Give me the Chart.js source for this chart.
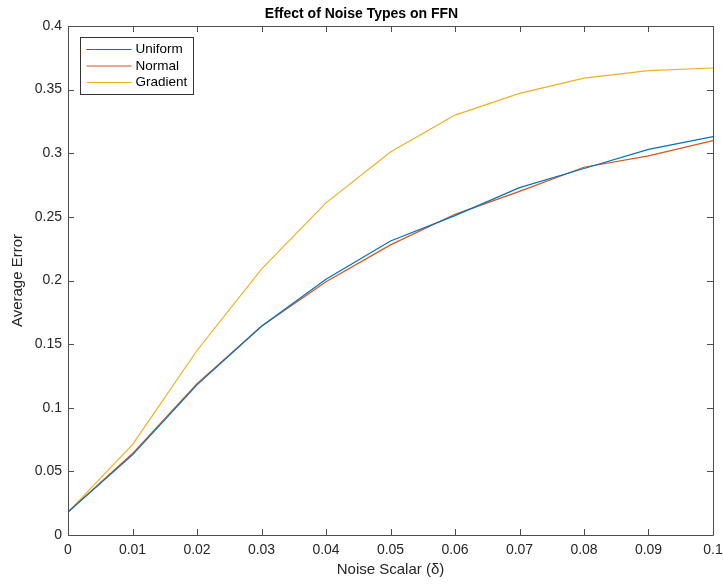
<!DOCTYPE html>
<html>
<head>
<meta charset="utf-8">
<title>Effect of Noise Types on FFN</title>
<script src="https://cdn.jsdelivr.net/npm/chart.js@4.4.1/dist/chart.umd.min.js"></script>
<style>
  html, body { margin: 0; padding: 0; background: #fff; }
  #wrap { width: 723px; height: 584px; }
</style>
</head>
<body>
<div id="wrap"><canvas id="noise-chart" width="723" height="584"></canvas></div>
<script>
// data
var noiseScalar = [0, 0.01, 0.02, 0.03, 0.04, 0.05, 0.06, 0.07, 0.08, 0.09, 0.1];
var uniformErr  = [0.018, 0.063, 0.118, 0.164, 0.201, 0.231, 0.251, 0.273, 0.288, 0.303, 0.313];
var normalErr   = [0.018, 0.064, 0.119, 0.164, 0.199, 0.228, 0.252, 0.270, 0.289, 0.298, 0.310];
var gradientErr = [0.018, 0.071, 0.145, 0.209, 0.261, 0.301, 0.330, 0.347, 0.359, 0.365, 0.367];
var seriesNames = ["Uniform", "Normal", "Gradient"];
var seriesColors = ["#0072BD", "#D95319", "#EDB120"];
var xTicks = [0, 0.01, 0.02, 0.03, 0.04, 0.05, 0.06, 0.07, 0.08, 0.09, 0.1];
var yTicks = [0, 0.05, 0.1, 0.15, 0.2, 0.25, 0.3, 0.35, 0.4];

var FONT = "'Liberation Sans', Arial, Helvetica, sans-serif";
var AXIS_COLOR = "#4d4d4d";

function toPoints(ys) {
    return noiseScalar.map(function (x, i) { return { x: x, y: ys[i] }; });
}

function fmt(v) {
    return String(Number(v.toFixed(3)));
}

// MATLAB style box, inward ticks and legend
var matlabAxes = {
    id: "matlabAxes",
    afterDraw: function (chart) {
        var ctx = chart.ctx;
        var a = chart.chartArea;
        var xs = chart.scales.x, ys = chart.scales.y;
        var tl = 6;
        ctx.save();
        ctx.strokeStyle = AXIS_COLOR;
        ctx.lineWidth = 1;
        ctx.beginPath();
        ctx.rect(Math.round(a.left) + 0.5, Math.round(a.top) + 0.5,
                 Math.round(a.right - a.left), Math.round(a.bottom - a.top));
        xTicks.forEach(function (v) {
            var px = Math.round(xs.getPixelForValue(v)) + 0.5;
            ctx.moveTo(px, a.bottom); ctx.lineTo(px, a.bottom - tl);
            ctx.moveTo(px, a.top); ctx.lineTo(px, a.top + tl);
        });
        yTicks.forEach(function (v) {
            var py = Math.round(ys.getPixelForValue(v)) + 0.5;
            ctx.moveTo(a.left, py); ctx.lineTo(a.left + tl, py);
            ctx.moveTo(a.right, py); ctx.lineTo(a.right - tl, py);
        });
        ctx.stroke();

        // legend box
        var lx = 80.5, ly = 37.5, lw = 113, lh = 57;
        ctx.fillStyle = "#fff";
        ctx.fillRect(lx, ly, lw, lh);
        ctx.strokeStyle = "#333";
        ctx.strokeRect(lx, ly, lw, lh);
        ctx.font = "13.5px " + FONT;
        ctx.textBaseline = "middle";
        ctx.textAlign = "left";
        chart.data.datasets.forEach(function (ds, i) {
            var yy = ly + 12 + i * 16.5;
            ctx.strokeStyle = ds.borderColor;
            ctx.lineWidth = 1.2;
            ctx.beginPath();
            ctx.moveTo(lx + 6, yy); ctx.lineTo(lx + 51, yy);
            ctx.stroke();
            ctx.fillStyle = "#000";
            ctx.fillText(ds.label, lx + 55, yy);
        });
        ctx.restore();
    }
};

new Chart(document.getElementById("noise-chart"), {
    type: "line",
    data: {
        datasets: [
            { label: seriesNames[0], data: toPoints(uniformErr),  borderColor: seriesColors[0] },
            { label: seriesNames[1], data: toPoints(normalErr),   borderColor: seriesColors[1] },
            { label: seriesNames[2], data: toPoints(gradientErr), borderColor: seriesColors[2] }
        ]
    },
    options: {
        responsive: false,
        animation: false,
        parsing: false,
        layout: { padding: 0 },
        elements: {
            line: { borderWidth: 1.2, tension: 0, fill: false },
            point: { radius: 0, hoverRadius: 0 }
        },
        plugins: {
            legend: { display: false },
            tooltip: { enabled: false },
            title: {
                display: true,
                text: "Effect of Noise Types on FFN",
                color: "#000",
                font: { family: FONT, size: 14, weight: "bold" },
                padding: { top: 6, bottom: 3.2 }
            }
        },
        scales: {
            x: {
                type: "linear",
                min: 0, max: 0.1,
                grid: { display: false, drawTicks: false },
                border: { display: false },
                afterBuildTicks: function (scale) {
                    scale.ticks = xTicks.map(function (v) { return { value: v }; });
                },
                afterFit: function (scale) {
                    scale.height = 49;
                    scale.paddingLeft = 0;
                    scale.paddingRight = 10;
                },
                ticks: {
                    color: "#262626",
                    padding: 7,
                    maxRotation: 0,
                    autoSkip: false,
                    font: { family: FONT, size: 14 },
                    callback: function (v) { return fmt(v); }
                },
                title: {
                    display: true,
                    text: "Noise Scalar (\u03B4)",
                    color: "#262626",
                    font: { family: FONT, size: 15 },
                    padding: { top: 0, bottom: 5 }
                }
            },
            y: {
                type: "linear",
                min: 0, max: 0.4,
                grid: { display: false, drawTicks: false },
                border: { display: false },
                afterBuildTicks: function (scale) {
                    scale.ticks = yTicks.map(function (v) { return { value: v }; });
                },
                afterFit: function (scale) {
                    scale.width = 68;
                    scale.paddingTop = 0;
                    scale.paddingBottom = 0;
                },
                ticks: {
                    color: "#262626",
                    padding: 6,
                    autoSkip: false,
                    font: { family: FONT, size: 14 },
                    callback: function (v) { return fmt(v); }
                },
                title: {
                    display: true,
                    text: "Average Error",
                    color: "#262626",
                    font: { family: FONT, size: 15 },
                    padding: { top: 9, bottom: 0 }
                }
            }
        }
    },
    plugins: [matlabAxes]
});
</script>
</body>
</html>
